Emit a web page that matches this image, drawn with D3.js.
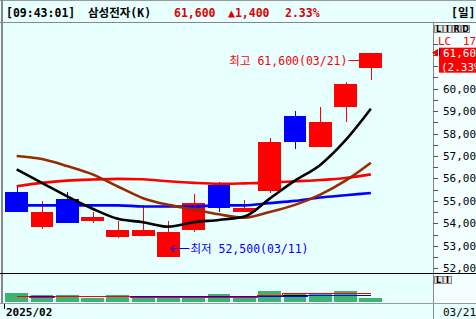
<!DOCTYPE html>
<html>
<head>
<meta charset="utf-8">
<script src="https://cdn.jsdelivr.net/npm/d3@7"></script>
<style>
  body { margin: 0; background: #e8ffff; overflow: hidden; }
  svg { display: block; font-family: "DejaVu Sans Mono", "Noto Sans CJK KR", monospace; }
</style>
</head>
<body>
<div id="chart"></div>
<script>
// daily candles, 2025
var dates  = ["02/28","03/04","03/05","03/06","03/07","03/10","03/11","03/12","03/13","03/14","03/17","03/18","03/19","03/20","03/21"];
var opens  = [55400, 53850, 55100, 54100, 53400, 53450, 52500, 53700, 55700, 54500, 55450, 58800, 57400, 59200, 60900];
var highs  = [55600, 55000, 55400, 54500, 54100, 54800, 54100, 55300, 55850, 55050, 57800, 59000, 59200, 60300, 61600];
var lows   = [54500, 53750, 54000, 54000, 53350, 53450, 52500, 53600, 54500, 54500, 55350, 57300, 57400, 58500, 60400];
var closes = [54500, 54500, 54000, 54300, 53700, 53700, 53600, 54900, 54700, 54700, 57600, 57600, 58500, 60200, 61600];

// moving average lines
var maBlack = [56400, 55800, 55200, 54650, 54200, 54050, 53850, 54050, 54150, 54300, 55100, 55900, 56600, 57700, 59100];
var maBrown = [57000, 56860, 56550, 56180, 55640, 55120, 54820, 54620, 54400, 54250, 54500, 54820, 55280, 55900, 56700];
var maRed   = [55650, 55800, 55900, 55950, 55980, 55960, 55870, 55800, 55760, 55780, 55810, 55870, 55930, 56020, 56180];
var maBlue  = [54800, 54800, 54800, 54800, 54800, 54750, 54750, 54750, 54800, 54800, 54900, 55000, 55150, 55250, 55350];

// volume (millions) and its average lines
var volumes  = [27, 20, 20, 12, 20, 18, 18, 18, 23, 12, 32, 25, 25, 32, 12];
var volBlack = [17, 17, 17, 17, 17, 17, 17, 17, 17, 18, 19, 20, 21, 22, 22];
var volBlue  = [17, 17, 17, 17, 18, 18, 17, 17, 17, 17, 18, 19, 21, 20, 20];
var volRed   = [17, 16, 17, 17, 17, 15, 15, 15, 15, 16, 21, 26, 26, 28, 28];

var priceLabels = [52000, 53000, 54000, 55000, 56000, 57000, 58000, 59000, 60000];

var W = 476, H = 319;
var axisX = 433, sepY = 273, bottomY = 303;

var svg = d3.select("#chart").append("svg")
  .attr("width", W).attr("height", H);

// backgrounds
svg.append("rect").attr("width", W).attr("height", H).attr("fill", "#e8ffff");
svg.append("rect").attr("x", axisX).attr("y", 23).attr("width", W - axisX).attr("height", bottomY - 23)
  .attr("fill", "#f3ffff");

// header
var header = svg.append("g");
header.append("line").attr("x1", 0).attr("x2", W).attr("y1", 0.5).attr("y2", 0.5).attr("stroke", "#999");
header.append("line").attr("x1", 0).attr("x2", W).attr("y1", 22.5).attr("y2", 22.5).attr("stroke", "#888");
var headTexts = [
  {t: "[09:43:01]", x: 6, c: "#000"},
  {t: "삼성전자(K)", x: 88, c: "#000"},
  {t: "61,600", x: 174, c: "#e00000"},
  {t: "▲1,400", x: 228, c: "#e00000"},
  {t: "2.33%", x: 285, c: "#e00000"},
  {t: "[일]", x: 451, c: "#000"}
];
header.selectAll("text.h").data(headTexts).enter().append("text")
  .attr("x", function(d) { return d.x; })
  .attr("y", 16.5)
  .attr("fill", function(d) { return d.c; })
  .attr("font-size", "11.5px")
  .attr("font-weight", "bold")
  .text(function(d) { return d.t; });

// scales
var x = d3.scaleBand().domain(dates).range([4, 383.5]).paddingInner(0.1).paddingOuter(0.05);
var bw = x.bandwidth();
function cx(i) { return x(dates[i]) + bw / 2; }

var y = d3.scaleLinear().domain([52000, 62000]).range([268.2, 43.7]);
var yVol = d3.scaleLinear().domain([0, 85]).range([302, 274]);

// price panel, clipped
svg.append("clipPath").attr("id", "pclip").append("rect")
  .attr("x", 3).attr("y", 23).attr("width", axisX - 3).attr("height", sepY - 23);
var plot = svg.append("g").attr("clip-path", "url(#pclip)");

var candles = plot.selectAll("g.candle").data(dates).enter().append("g")
  .attr("shape-rendering", "crispEdges");
candles.append("line")
  .attr("x1", function(d, i) { return Math.round(cx(i)) + 0.5; })
  .attr("x2", function(d, i) { return Math.round(cx(i)) + 0.5; })
  .attr("y1", function(d, i) { return y(highs[i]); })
  .attr("y2", function(d, i) { return y(lows[i]); })
  .attr("stroke", function(d, i) { return closes[i] >= opens[i] ? "#ff0000" : "#0000ff"; });
candles.append("rect")
  .attr("x", function(d) { return x(d); })
  .attr("width", bw)
  .attr("y", function(d, i) { return y(Math.max(opens[i], closes[i])); })
  .attr("height", function(d, i) { return Math.max(1, Math.abs(y(opens[i]) - y(closes[i]))); })
  .attr("fill", function(d, i) { return closes[i] >= opens[i] ? "#ff0000" : "#0000ff"; });

var maLine = d3.line().curve(d3.curveMonotoneX)
  .x(function(d, i) { return cx(i); }).y(function(d) { return y(d); });
var mas = [
  {v: maBlue, c: "#0000ff"},
  {v: maRed, c: "#ff0000"},
  {v: maBrown, c: "#9a2a00"},
  {v: maBlack, c: "#000000"}
];
plot.selectAll("path.ma").data(mas).enter().append("path")
  .attr("d", function(d) { return maLine(d.v); })
  .attr("fill", "none")
  .attr("stroke", function(d) { return d.c; })
  .attr("stroke-width", 2.6);

// high / low annotations
var hiIdx = d3.maxIndex(highs), loIdx = d3.minIndex(lows);
var hiY = Math.round(y(highs[hiIdx])) + 7.5;
plot.append("line").attr("x1", x(dates[hiIdx]) - 11).attr("x2", x(dates[hiIdx]))
  .attr("y1", hiY).attr("y2", hiY).attr("stroke", "#ff0000");
plot.append("text").attr("x", x(dates[hiIdx]) - 12).attr("y", hiY + 4)
  .attr("text-anchor", "end").attr("fill", "#ff0000").attr("font-size", "11.5px")
  .text("최고 " + d3.format(",")(highs[hiIdx]) + "(" + dates[hiIdx] + ")");

var loY = Math.round(y(lows[loIdx])) - 8.5;
var loX = cx(loIdx) + 2;
plot.append("path")
  .attr("d", "M" + loX + "," + loY + "H" + (loX + 19) + "M" + loX + "," + loY + "l4,-3M" + loX + "," + loY + "l4,3")
  .attr("stroke", "#0000ff").attr("fill", "none");
plot.append("text").attr("x", loX + 20).attr("y", loY + 4)
  .attr("fill", "#0000ff").attr("font-size", "11.5px")
  .text("최저 " + d3.format(",")(lows[loIdx]) + "(" + dates[loIdx] + ")");

// volume panel
var vol = svg.append("g");
vol.selectAll("rect").data(volumes).enter().append("rect")
  .attr("shape-rendering", "crispEdges")
  .attr("x", function(d, i) { return x(dates[i]); })
  .attr("width", bw)
  .attr("y", function(d) { return yVol(d); })
  .attr("height", function(d) { return yVol(0) - yVol(d); })
  .attr("fill", "#3cb371");
var volLine = d3.line().curve(d3.curveStep)
  .x(function(d, i) { return cx(i); }).y(function(d) { return Math.round(yVol(d)) + 0.5; });
[{v: volBlack, c: "#000"}, {v: volBlue, c: "#0000ff"}, {v: volRed, c: "#ff0000"}].forEach(function(s) {
  vol.append("path").attr("d", volLine(s.v)).attr("fill", "none")
    .attr("stroke", s.c).attr("stroke-width", 1).attr("shape-rendering", "crispEdges");
});

// frame lines
svg.append("line").attr("x1", 2).attr("x2", 2).attr("y1", 0).attr("y2", bottomY).attr("stroke", "#888").attr("stroke-width", 2);
svg.append("line").attr("x1", axisX + 0.5).attr("x2", axisX + 0.5).attr("y1", 23).attr("y2", H).attr("stroke", "#888");
svg.append("line").attr("x1", 0).attr("x2", W).attr("y1", sepY + 0.5).attr("y2", sepY + 0.5).attr("stroke", "#000");
svg.append("line").attr("x1", 0).attr("x2", W).attr("y1", bottomY + 0.5).attr("y2", bottomY + 0.5).attr("stroke", "#999");

// price axis
var axisG = svg.append("g");
var minorTicks = d3.range(52000, 62001, 500);
axisG.selectAll("line.t").data(minorTicks).enter().append("line")
  .attr("x1", axisX).attr("x2", axisX + 5)
  .attr("y1", function(d) { return Math.round(y(d)) + 0.5; })
  .attr("y2", function(d) { return Math.round(y(d)) + 0.5; })
  .attr("stroke", "#555");
svg.append("clipPath").attr("id", "aclip").append("rect")
  .attr("x", axisX + 1).attr("y", 23).attr("width", W - axisX).attr("height", sepY - 23);
axisG.append("g").attr("clip-path", "url(#aclip)")
  .selectAll("text").data(priceLabels).enter().append("text")
  .attr("x", 443)
  .attr("y", function(d) { return y(d) + 4; })
  .attr("font-size", "11px")
  .attr("fill", "#000")
  .text(function(d) { return d3.format(",")(d); });

// current price marker
var last = closes[closes.length - 1];
var ly = y(last);
svg.append("rect").attr("x", 439).attr("y", ly - 5).attr("width", 40).attr("height", 25).attr("fill", "#ff0000");
svg.append("path").attr("d", "M432," + ly + "L438," + (ly - 4) + "L438," + (ly + 4) + "Z").attr("fill", "#ff0000");
svg.append("line").attr("x1", 439.5).attr("x2", 439.5).attr("y1", ly - 4).attr("y2", ly + 3).attr("stroke", "#0000ff");
svg.append("text").attr("x", 443).attr("y", ly + 4).attr("fill", "#fff").attr("font-size", "11px")
  .text(d3.format(",")(last));
svg.append("text").attr("x", 441).attr("y", ly + 18).attr("fill", "#fff").attr("font-size", "11px")
  .text("(2.33%)");
svg.append("text").attr("x", 438).attr("y", 45).attr("fill", "#ff0000").attr("font-size", "11px").text("LC");
svg.append("text").attr("x", 463).attr("y", 45).attr("fill", "#ff0000").attr("font-size", "11px").text("17");

// small buttons
function buttons(labels, bx, by) {
  var g = svg.append("g");
  labels.forEach(function(l, i) {
    g.append("rect").attr("x", bx + i * 9 + 0.5).attr("y", by + 0.5).attr("width", 8).attr("height", 7)
      .attr("fill", "#e4e4e4").attr("stroke", "#888").attr("shape-rendering", "crispEdges");
    g.append("text").attr("x", bx + i * 9 + 4.5).attr("y", by + 7).attr("text-anchor", "middle")
      .attr("font-size", "8px").attr("font-weight", "bold").attr("font-family", "DejaVu Sans").text(l);
  });
}
buttons(["L", "I", "R", "D"], 434, 25);
buttons(["L", "I"], 434, 276);

// date strip
svg.append("line").attr("x1", 4.5).attr("x2", 4.5).attr("y1", bottomY + 1).attr("y2", bottomY + 6).attr("stroke", "#000");
svg.append("text").attr("x", 6).attr("y", 316).attr("font-size", "11px").attr("font-weight", "bold")
  .text("2025/" + dates[0].slice(0, 2));
svg.append("text").attr("x", 443).attr("y", 316).attr("font-size", "11px")
  .text(dates[dates.length - 1]);
</script>
</body>
</html>
